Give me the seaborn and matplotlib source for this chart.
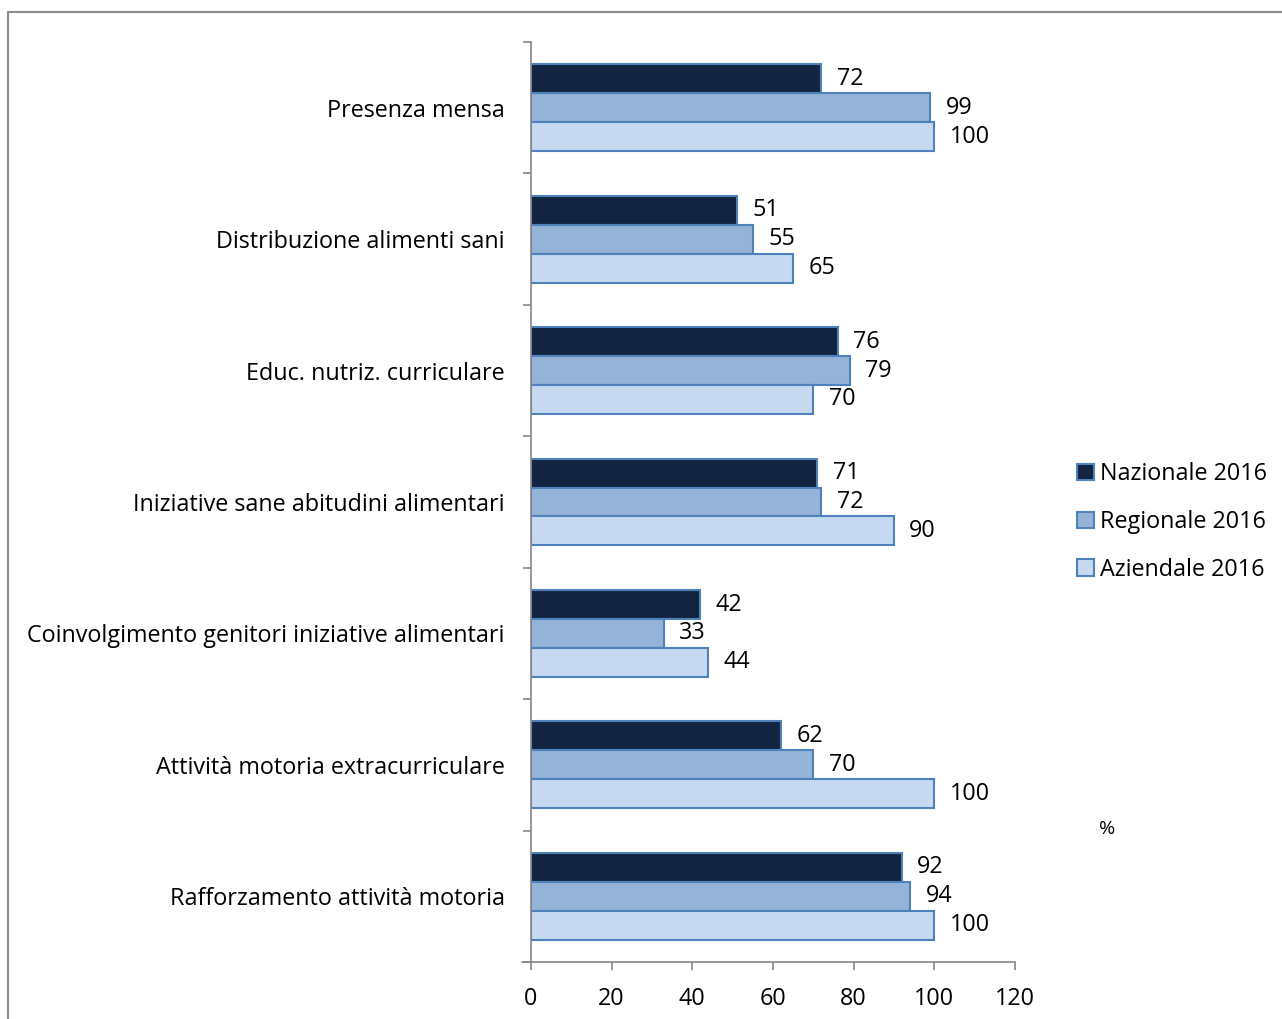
import matplotlib
matplotlib.use("Agg")
import matplotlib.pyplot as plt
import seaborn as sns
import pandas as pd
import numpy as np
from matplotlib.lines import Line2D

categories = [
    "Presenza mensa",
    "Distribuzione alimenti sani",
    "Educ. nutriz. curriculare",
    "Iniziative sane abitudini alimentari",
    "Coinvolgimento genitori iniziative alimentari",
    "Attività motoria extracurriculare",
    "Rafforzamento attività motoria",
]
series = ["Nazionale 2016", "Regionale 2016", "Aziendale 2016"]
nazionale = [72, 51, 76, 71, 42, 62, 92]
regionale = [99, 55, 79, 72, 33, 70, 94]
aziendale = [100, 65, 70, 90, 44, 100, 100]
x_ticks = [0, 20, 40, 60, 80, 100, 120]

colors = ["#12243F", "#95B3D7", "#C6D9F1"]
edge = "#4F81BD"

rows = []
for s, vals in zip(series, [nazionale, regionale, aziendale]):
    for c, v in zip(categories, vals):
        rows.append({"cat": c, "series": s, "val": v})
df = pd.DataFrame(rows)

sns.set_style("white")
plt.rcParams["font.family"] = ["Open Sans", "DejaVu Sans"]
plt.rcParams["text.color"] = "black"
plt.rcParams["xtick.labelcolor"] = "black"
plt.rcParams["ytick.labelcolor"] = "black"

FS = 16.8

fig = plt.figure(figsize=(12.82, 10.19), dpi=100)
ax = fig.add_axes([531 / 1282, 1 - 962 / 1019, (1015 - 531) / 1282, (962 - 42) / 1019])

sns.barplot(data=df, y="cat", x="val", hue="series", order=categories,
            hue_order=series, palette=colors, saturation=1, orient="h", width=0.66,
            edgecolor=edge, linewidth=1.5, ax=ax, legend=True)

for cont in ax.containers:
    ax.bar_label(cont, padding=11, fontsize=FS, color="black")

ax.set_xlim(0, 120)
ax.set_ylim(len(categories) - 0.5, -0.5)
ax.set_xticks(x_ticks)
ax.set_xticklabels([str(t) for t in x_ticks], fontsize=FS, color="black")
ax.set_yticks(range(len(categories)))
ax.set_yticklabels(categories, fontsize=FS, color="black")
ax.set_yticks(np.arange(-0.5, len(categories) + 0.5, 1), minor=True)
ax.tick_params(axis="y", which="major", length=0, pad=19)
ax.tick_params(axis="y", which="minor", length=6, width=1.2, color="#868686", direction="out")
ax.tick_params(axis="x", which="major", length=6, width=1.2, color="#868686", direction="out", pad=12)
ax.xaxis.set_tick_params(bottom=True)
ax.yaxis.set_tick_params(which="minor", left=True)
ax.set_xlabel("")
ax.set_ylabel("")
for side in ["top", "right"]:
    ax.spines[side].set_visible(False)
for side in ["left", "bottom"]:
    ax.spines[side].set_color("#868686")
    ax.spines[side].set_linewidth(1.2)
ax.add_line(Line2D([522 / 1282, 531 / 1282], [1 - 962 / 1019] * 2, transform=fig.transFigure,
                   color="#868686", lw=1.2, clip_on=False))

handles, labels = ax.get_legend_handles_labels()
ax.legend_.remove()
leg = fig.legend(handles, labels, loc="center left", bbox_to_anchor=(1056 / 1282, 1 - 522 / 1019),
                 frameon=False, fontsize=FS, handlelength=0.72, handleheight=0.72,
                 handletextpad=0.25, labelspacing=1.02)
for t in leg.get_texts():
    t.set_color("black")

fig.text(1107 / 1282, 1 - 829 / 1019, "%", fontsize=14, ha="center", va="center", color="black")

fig.add_artist(Line2D([8 / 1282, 1.0], [1 - 12 / 1019] * 2, transform=fig.transFigure,
                      color="#8C8C8C", lw=1.5))
fig.add_artist(Line2D([8 / 1282, 8 / 1282], [0, 1 - 12 / 1019], transform=fig.transFigure,
                      color="#8C8C8C", lw=1.5))

fig.savefig("out.png", dpi=100)
